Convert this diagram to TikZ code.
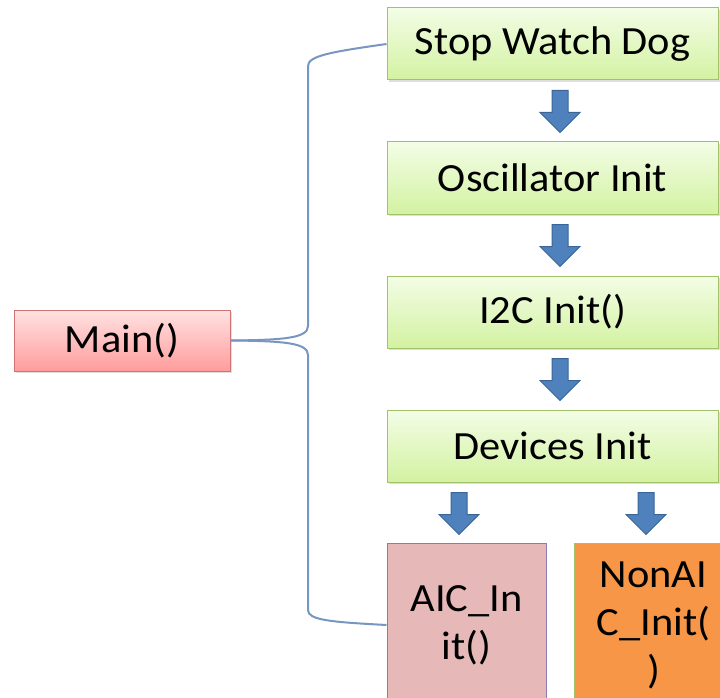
\documentclass[tikz,border=0pt]{standalone}
\usepackage{fontspec}
\setmainfont{Carlito}[FakeStretch=1.06]
\usepackage{xcolor}
\usetikzlibrary{positioning, shadows}

\definecolor{greenline}{HTML}{A2C168}
\definecolor{greentop}{HTML}{F3FDE6}
\definecolor{greenbot}{HTML}{D3F2A2}
\definecolor{redline}{HTML}{CF7472}
\definecolor{redtop}{HTML}{FFE2E2}
\definecolor{redbot}{HTML}{FF9C9C}
\definecolor{aicfill}{HTML}{E6B9B8}
\definecolor{aicline}{HTML}{8E7AB2}
\definecolor{nonfill}{HTML}{F79646}
\definecolor{arrowblue}{HTML}{4F81BD}
\definecolor{arrowline}{HTML}{3A6596}
\definecolor{braceline}{HTML}{7896C2}

\begin{document}
\begin{tikzpicture}[
	x=1pt, y=1pt,
	font=\fontsize{40}{48}\selectfont,
	stepbox/.style={rectangle, draw=greenline, line width=1pt, top color=greentop, bottom color=greenbot, minimum width=331pt, minimum height=72pt, drop shadow={shadow xshift=2pt, shadow yshift=-2pt, opacity=0.25}},
	mainbox/.style={rectangle, draw=redline, line width=1pt, top color=redtop, bottom color=redbot, minimum width=216pt, minimum height=61pt, drop shadow={shadow xshift=2pt, shadow yshift=-2pt, opacity=0.25}},
	initbox/.style={rectangle, line width=1pt, minimum width=159pt, minimum height=164pt, align=center, inner sep=0pt},
	brace/.style={draw=braceline, line width=2pt},
	downarr/.pic={\draw[draw=arrowline, fill=arrowblue, line width=1pt] (-8,0) -- (8,0) -- (8,-22) -- (20,-22) -- (0,-42) -- (-20,-22) -- (-8,-22) -- cycle;}
	]
	\useasboundingbox (0,0) rectangle (720,-698);
	
	% Init steps
	\node[stepbox] (sw) at (552.5,-44) {Stop Watch Dog};
	\node[stepbox, below=61pt of sw] (osc) {Oscillator Init};
	\node[stepbox, below=61pt of osc] (iic) {I2C Init()};
	\node[stepbox, below=61pt of iic] (dev) {Devices Init};
	
	% Device inits
	\node[initbox, draw=aicline, fill=aicfill, below=60pt of dev.south west, anchor=north west] (aic) {AIC\_In\\it()};
	\node[initbox, draw=greenline, fill=nonfill, right=27pt of aic] (nonaic) {NonAI\\C\_Init(\\)};
	
	% Main
	\node[mainbox] (main) at (122,-340.5) {Main()};
	
	% Block arrows
	\path (sw.south) ++(7.5,-10) pic {downarr};
	\path (osc.south) ++(7.5,-10) pic {downarr};
	\path (iic.south) ++(7.5,-10) pic {downarr};
	\path (aic.north) ++(-7.5,50) pic {downarr};
	\path (nonaic.north) ++(-7.5,50) pic {downarr};
	
	% Brace from Main
	\draw[brace] (main.east) .. controls (285,-340) and (308,-338) .. (308,-326) -- (308,-66) .. controls (308,-56) and (330,-52) .. (sw.west);
	\draw[brace] (main.east) .. controls (285,-341) and (308,-343) .. (308,-355) -- (308,-610) .. controls (308,-620) and (330,-622) .. (aic.west);
	
\end{tikzpicture}
\end{document}
